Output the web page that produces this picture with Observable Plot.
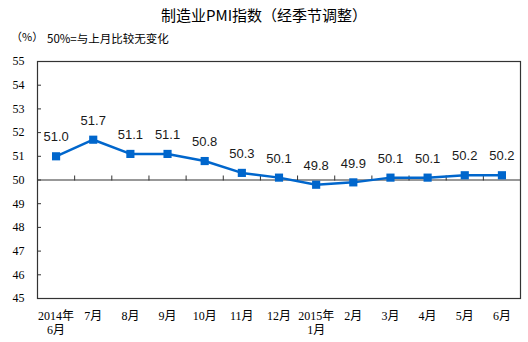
<!DOCTYPE html>
<html><head><meta charset="utf-8">
<script src="https://cdn.jsdelivr.net/npm/d3@7"></script>
<script src="https://cdn.jsdelivr.net/npm/@observablehq/plot@0.6"></script>
<style>
body{margin:0;background:#fff;}
#wrap{position:relative;width:528px;height:342px;overflow:hidden;}
#title{position:absolute;left:0;width:528px;top:4px;text-align:center;font:15px "Noto Sans CJK SC",sans-serif;color:#000;}
#unit{position:absolute;left:11px;top:28px;font:11px "Noto Sans CJK SC",sans-serif;color:#000;}
#note{position:absolute;left:47px;top:30px;font:11.5px "Noto Sans CJK SC",sans-serif;color:#000;}
#chart{position:absolute;left:0;top:0;}
</style></head>
<body><div id="wrap"><div id="chart"></div>
<div id="title">制造业PMI指数（经季节调整）</div>
<div id="unit">（%）</div>
<div id="note">50%=与上月比较无变化</div>
</div>
<script>
const months = ["2014年\n6月","7月","8月","9月","10月","11月","12月","2015年\n1月","2月","3月","4月","5月","6月"];
const pmi = [51.0, 51.7, 51.1, 51.1, 50.8, 50.3, 50.1, 49.8, 49.9, 50.1, 50.1, 50.2, 50.2];
const yTicks = [45,46,47,48,49,50,51,52,53,54,55];

const data = months.map((m, i) => ({i, m, v: pmi[i]}));
const idx = months.map((_, i) => i);
const bounds = idx.slice(1).map(i => i - 0.5);
const blue = "#0066cc";
const W = 528, H = 342, mt = 61, mb = 44;
const half = (H - mt - mb) / 2;

const chart = Plot.plot({
  width: W, height: H,
  marginTop: mt, marginRight: 8, marginBottom: mb, marginLeft: 37,
  style: {background: "#fff", overflow: "visible"},
  x: {type: "linear", domain: [-0.5, months.length - 0.5]},
  y: {domain: [45, 55]},
  marks: [
    Plot.axisY({ticks: yTicks, tickSize: 0, tickPadding: 13, fontSize: 12,
      fontFamily: "'Liberation Serif','Times New Roman',serif", fill: "#000", label: null}),
    Plot.axisY({ticks: yTicks, tickSize: 4, text: null, dx: 4, stroke: "#333", label: null}),
    Plot.axisX({ticks: idx, tickSize: 0, tickPadding: 12, fontSize: 12,
      tickFormat: i => months[i], lineHeight: 1.15,
      fontFamily: "'Liberation Serif','Noto Sans CJK SC',serif", fill: "#000", label: null}),
    Plot.axisX({anchor: "top", ticks: bounds, tickSize: 5, text: null, dy: half, stroke: "#333", label: null}),
    Plot.ruleY([50], {stroke: "#333", strokeWidth: 1.2}),
    Plot.frame({stroke: "#333", strokeWidth: 1.2}),
    Plot.line(data, {x: "i", y: "v", stroke: blue, strokeWidth: 2.5}),
    Plot.dot(data, {x: "i", y: "v", symbol: "square", r: 4.6, fill: blue, stroke: "none"}),
    Plot.text(data, {x: "i", y: "v", text: d => d.v.toFixed(1), dy: -19, fontSize: 13,
      fontFamily: "'Liberation Sans',Arial,sans-serif", fill: "#1a1a1a"})
  ]
});
document.getElementById("chart").appendChild(chart);
</script>
</body></html>
